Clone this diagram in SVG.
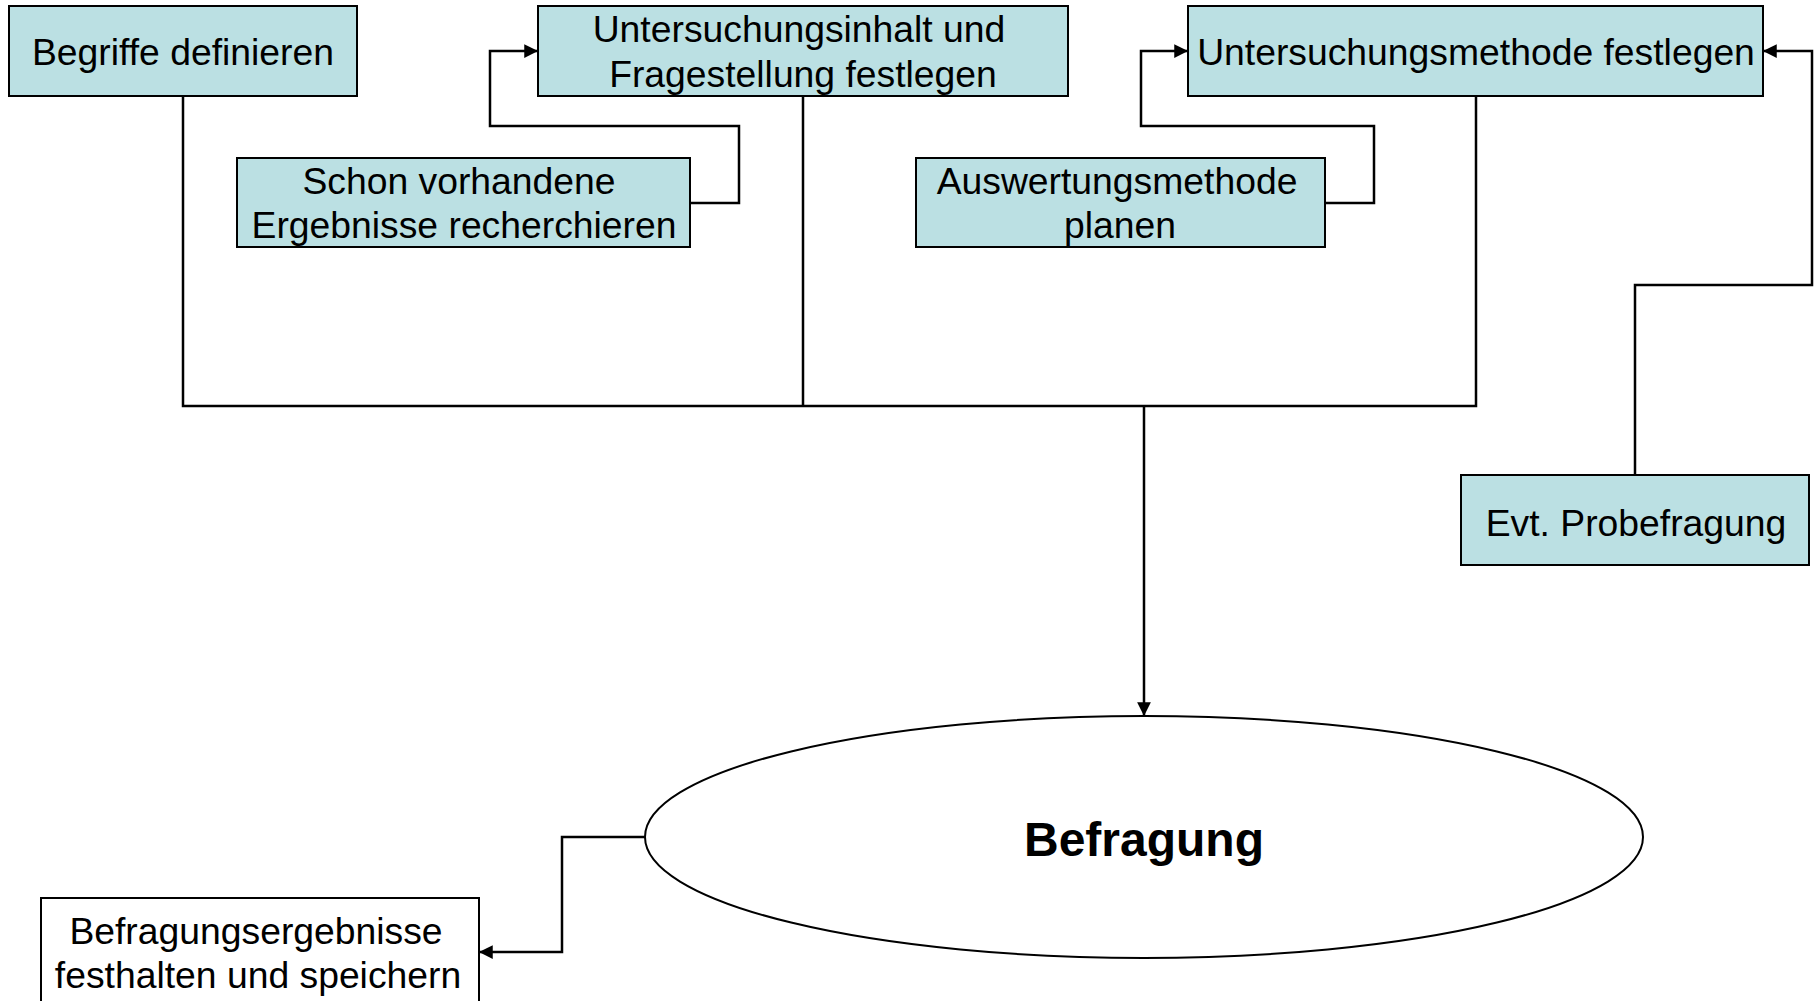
<svg xmlns="http://www.w3.org/2000/svg" width="1818" height="1001" viewBox="0 0 1818 1001">
<style>
.box{fill:#BBE0E3;stroke:#000;stroke-width:2}
.wbox{fill:#fff;stroke:#000;stroke-width:2}
.t{font-family:"Liberation Sans",Arial,sans-serif;font-size:37.3px;fill:#000;text-anchor:middle}
.b{font-family:"Liberation Sans",Arial,sans-serif;font-size:48px;font-weight:bold;fill:#000;text-anchor:middle}
.c{fill:none;stroke:#000;stroke-width:2.5}
</style>
<defs>
<marker id="arr" viewBox="0 0 10 10" refX="10" refY="5" markerWidth="5.5" markerHeight="5.5" orient="auto" markerUnits="strokeWidth">
<path d="M0,0 L10,5 L0,10 Z" fill="#000"/>
</marker>
</defs>
<rect width="1818" height="1001" fill="#fff"/>
<g id="connectors">
<path class="c" d="M183,96 V406 H1476 V96"/>
<path class="c" d="M803,96 V406"/>
<path class="c" d="M1144,406 V716" marker-end="url(#arr)"/>
<path class="c" d="M690,203 H739 V126 H490 V51 H538" marker-end="url(#arr)"/>
<path class="c" d="M1325,203 H1374 V126 H1141 V51 H1188" marker-end="url(#arr)"/>
<path class="c" d="M1635,475 V285 H1812 V51 H1763" marker-end="url(#arr)"/>
<path class="c" d="M645,837 H562 V952 H479" marker-end="url(#arr)"/>
</g>
<g id="n1"><rect class="box" x="9" y="6" width="348" height="90"/><text class="t" x="183" y="65">Begriffe definieren</text></g>
<g id="n2"><rect class="box" x="538" y="6" width="530" height="90"/><text class="t" x="799" y="42">Untersuchungsinhalt und</text><text class="t" x="803" y="87">Fragestellung festlegen</text></g>
<g id="n3"><rect class="box" x="237" y="158" width="453" height="89"/><text class="t" x="459" y="194">Schon vorhandene</text><text class="t" x="464" y="238">Ergebnisse recherchieren</text></g>
<g id="n4"><rect class="box" x="916" y="158" width="409" height="89"/><text class="t" x="1117" y="194">Auswertungsmethode</text><text class="t" x="1120" y="238">planen</text></g>
<g id="n5"><rect class="box" x="1188" y="6" width="575" height="90"/><text class="t" x="1476" y="65">Untersuchungsmethode festlegen</text></g>
<g id="n6"><rect class="box" x="1461" y="475" width="348" height="90"/><text class="t" x="1636" y="536">Evt. Probefragung</text></g>
<g id="n7"><ellipse cx="1144" cy="837" rx="499" ry="121" fill="#fff" stroke="#000" stroke-width="2"/><text class="b" x="1144" y="856">Befragung</text></g>
<g id="n8"><rect class="wbox" x="41" y="898" width="438" height="110"/><text class="t" x="256" y="944">Befragungsergebnisse</text><text class="t" x="258" y="988">festhalten und speichern</text></g>
</svg>
